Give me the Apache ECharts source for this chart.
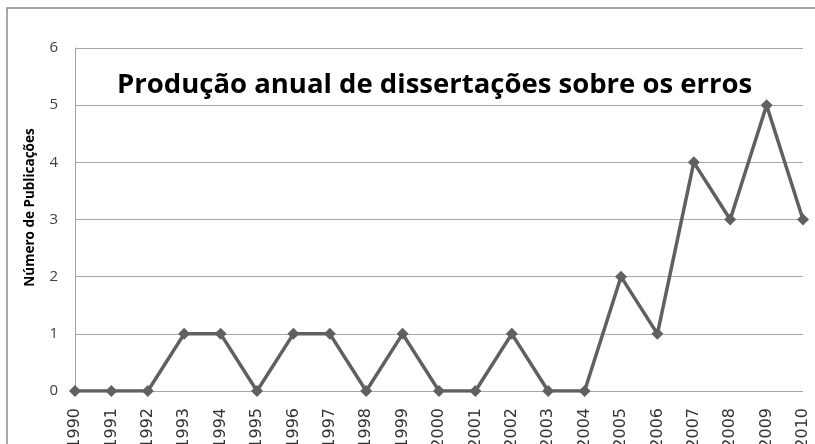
<!DOCTYPE html>
<html>
<head>
<meta charset="utf-8">
<script src="https://cdn.jsdelivr.net/npm/echarts@6/dist/echarts.min.js"></script>
<style>
  html, body { margin: 0; padding: 0; background: #fff; }
  #chart { width: 815px; height: 444px; }
</style>
</head>
<body>
<div id="chart"></div>
<script>
// anos e número de dissertações
var years = ['1990', '1991', '1992', '1993', '1994', '1995', '1996', '1997', '1998', '1999', '2000',
             '2001', '2002', '2003', '2004', '2005', '2006', '2007', '2008', '2009', '2010'];
var publicacoes = [0, 0, 0, 1, 1, 0, 1, 1, 0, 1, 0, 0, 1, 0, 0, 2, 1, 4, 3, 5, 3];
var titleText = 'Produção anual de dissertações sobre os erros';
var yName = 'Número de Publicações';

var myChart = echarts.init(document.getElementById('chart'));

var option = {
  animation: false,
  backgroundColor: '#fff',
  title: {
    text: titleText,
    left: 117,
    top: 71,
    padding: 0,
    textStyle: {
      fontFamily: 'Open Sans',
      fontWeight: 'bold',
      fontSize: 27.5,
      color: '#000'
    }
  },
  graphic: [{
    type: 'rect',
    shape: { x: 7, y: 8, width: 900, height: 600 },
    style: { fill: 'none', stroke: '#8a8a8a', lineWidth: 1.5 },
    silent: true,
    z: -1
  }],
  grid: { left: 75, right: 12, top: 48, bottom: 53, containLabel: false, outerBoundsMode: 'none' },
  xAxis: {
    type: 'category',
    data: years,
    boundaryGap: false,
    axisLine: { show: false },
    axisTick: { show: false },
    axisLabel: {
      rotate: 90,
      margin: 17,
      interval: 0,
      fontFamily: 'DejaVu Sans',
      fontSize: 16,
      color: '#333'
    }
  },
  yAxis: {
    type: 'value',
    min: 0,
    max: 6,
    interval: 1,
    name: yName,
    nameLocation: 'middle',
    nameGap: 38,
    nameTextStyle: {
      fontFamily: 'Open Sans',
      fontWeight: 'bold',
      fontSize: 13.5,
      color: '#000',
      padding: [0, 0, 0, 24]
    },
    axisLine: { show: true, lineStyle: { color: '#a0a0a0', width: 1 } },
    axisTick: { show: false },
    axisLabel: {
      margin: 17,
      fontFamily: 'Open Sans',
      fontSize: 15,
      color: '#404040'
    },
    splitLine: { show: true, lineStyle: { color: '#a8a8a8', width: 1 } }
  },
  series: [{
    type: 'line',
    data: publicacoes,
    symbol: 'diamond',
    symbolSize: 12,
    lineStyle: { color: '#606060', width: 3.5 },
    itemStyle: { color: '#606060' }
  }]
};

myChart.setOption(option, true);
</script>
</body>
</html>
